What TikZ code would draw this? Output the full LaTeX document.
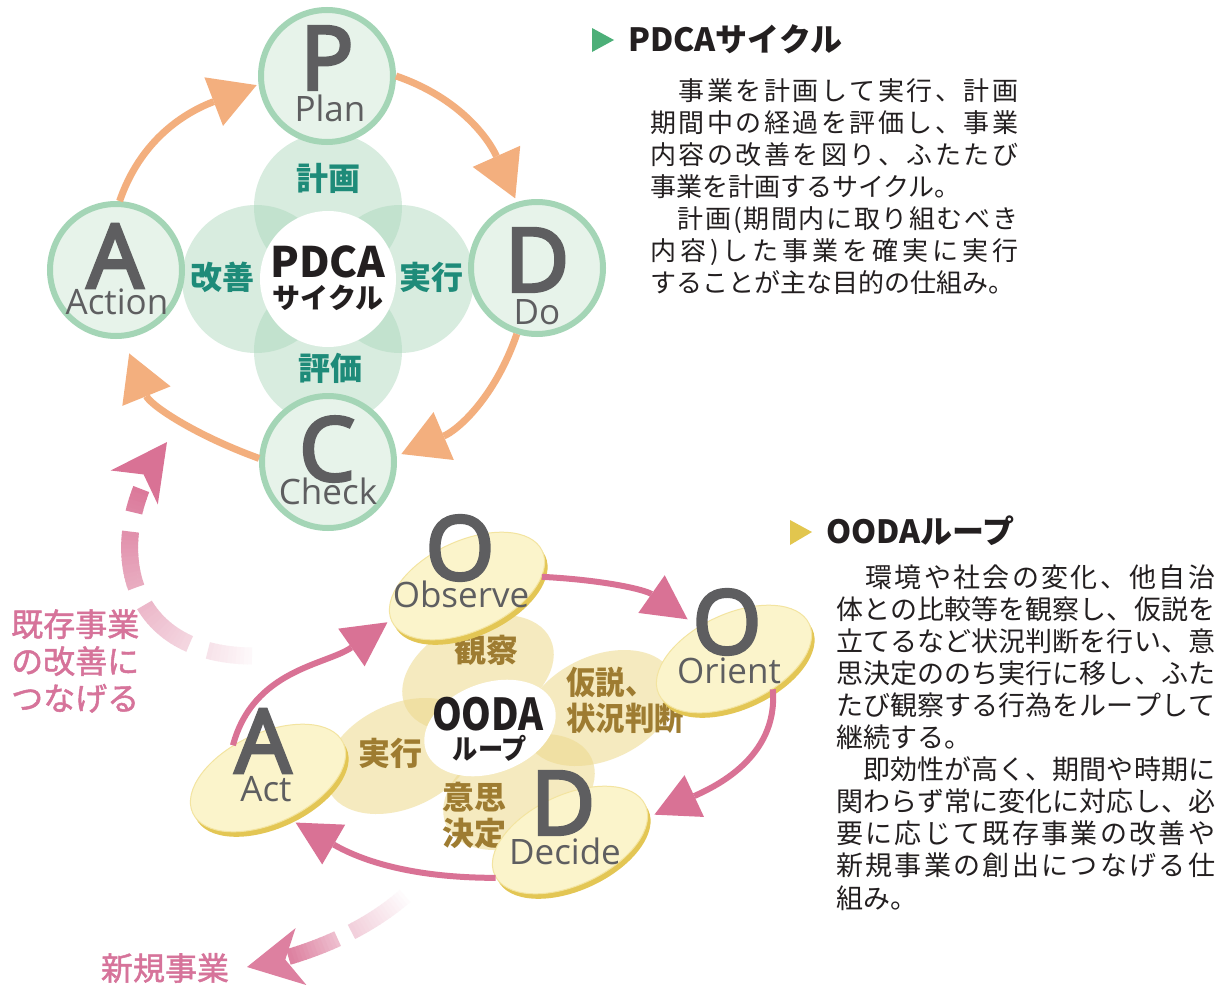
\documentclass[tikz,border=0pt]{standalone}
\usepackage{fontspec}
\usepackage{graphicx}
\setmainfont{Noto Sans CJK JP}
\newfontfamily\os{Open Sans}
\newfontfamily\osb[FakeBold=4]{Open Sans}
\newfontfamily\jpm[FakeBold=1.5]{Noto Sans CJK JP}
\usetikzlibrary{arrows.meta,shapes.geometric}
\definecolor{grnS}{HTML}{A4D5B6}
\definecolor{grnF}{HTML}{E7F3EA}
\definecolor{petalG}{HTML}{A9D6BA}
\definecolor{tealc}{HTML}{1E8B79}
\definecolor{orng}{HTML}{F3AF7E}
\definecolor{ltr}{HTML}{5E5E60}
\definecolor{pnk}{HTML}{D97295}
\definecolor{pnkT}{HTML}{D6739A}
\definecolor{cream}{HTML}{FBF4CB}
\definecolor{creamD}{HTML}{F3E4A0}
\definecolor{gold}{HTML}{E3C654}
\definecolor{petalY}{HTML}{EDD98C}
\definecolor{brn}{HTML}{9E7C31}
\definecolor{triG}{HTML}{4CAF78}
\definecolor{triY}{HTML}{E2C64E}
\definecolor{txtc}{HTML}{231F20}
\def\jl#1{\jlA#1\relax\relax}
\def\jlA#1#2{#1\ifx\relax#2\else\hfill\expandafter\jlA\expandafter#2\fi}
\begin{document}
\begin{tikzpicture}[x=1pt,y=1pt,
  pcirc/.style={circle, minimum size=132pt, inner sep=0pt, line width=6pt, draw=grnS, fill=grnF},
  gpetal/.style={circle, minimum size=148pt, inner sep=0pt, fill=petalG, fill opacity=0.45},
  bigL/.style={font=\osb\fontsize{88}{88}\selectfont, text=ltr, inner sep=0pt},
  smL/.style={font=\os\fontsize{35}{35}\selectfont, text=ltr, inner sep=0pt},
  tlab/.style={font=\bfseries\fontsize{32}{36}\selectfont, text=tealc, inner sep=0pt},
  oarr/.style={draw=orng, line width=7pt, -{Triangle[length=46pt,width=52pt,line width=0pt]}},
  ypetal/.style={ellipse, minimum width=160pt, minimum height=104pt, inner sep=0pt, fill=petalY, fill opacity=0.55, rotate=25},
  lensR/.style={ellipse, minimum width=166pt, minimum height=90pt, inner sep=0pt, fill=gold, rotate=25},
  lens/.style={ellipse, minimum width=166pt, minimum height=90pt, inner sep=0pt, fill=cream, draw=creamD, line width=1pt, rotate=25},
  blab/.style={font=\bfseries\fontsize{32}{36}\selectfont, text=brn, inner sep=0pt},
  parr/.style={draw=pnk, line width=6pt, -{Triangle[length=44pt,width=46pt,line width=0pt]}},
  plab/.style={font=\jpm\fontsize{32}{37}\selectfont, text=pnkT, inner sep=0pt},
  head/.style={font=\bfseries\fontsize{32}{36}\selectfont, text=txtc, inner sep=0pt, anchor=west}
]
\fill[white] (0,0) rectangle (1227,-985);
\useasboundingbox (0,0) rectangle (1227,-985);

% ---------------- PDCA ----------------
\node[gpetal] (gpT) at (328,-207) {};
\node[gpetal] (gpB) at (328,-351) {};
\node[gpetal] (gpL) at (256,-279) {};
\node[gpetal] (gpR) at (400,-279) {};
\node[circle, fill=white, minimum size=136pt, inner sep=0pt] (pcen) at (328,-279) {};
\node[font=\bfseries\fontsize{42}{44}\selectfont, text=txtc, inner sep=0pt] (pcT1) at (328,-262) {PDCA};
\node[font=\bfseries\fontsize{28}{30}\selectfont, text=txtc, inner sep=0pt] (pcT2) at (328,-298) {サイクル};
\node[tlab] (tKei) at (328,-178) {計画};
\node[tlab] (tHyo) at (330,-368) {評価};
\node[tlab] (tKai) at (222,-277) {改善};
\node[tlab] (tJik) at (431,-277) {実行};

\node[pcirc] (P) at (327,-76) {};
\node[pcirc] (D) at (537,-268) {};
\node[pcirc] (A) at (116,-270) {};
\node[pcirc] (C) at (328,-462) {};

\draw[oarr, shorten >=4pt] (P.0) to[out=-19,in=114] (D.107);
\draw[oarr, shorten >=5pt] (D.253) to[out=-109,in=23] (C.5);
\draw[oarr, shorten >=16pt] (C.177) to[out=160,in=-68] (A.-84);
\draw[oarr, shorten >=2pt] (A.87) to[out=71,in=201] (P.187);

\node[bigL] (Pl) at (327,-58) {P};
\node[smL] (Plb) at (330,-108) {Plan};
\node[bigL] (Dl) at (537,-260) {D};
\node[smL] (Dlb) at (537,-312) {Do};
\node[bigL] (Al) at (115,-256) {A};
\node[smL] (Alb) at (117,-302) {Action};
\node[bigL] (Cl) at (327,-449) {C};
\node[smL] (Clb) at (328,-491) {Check};

% ---------------- OODA ----------------
\node[ypetal] (ypK) at (478,-673) {};
\node[ypetal] (ypH) at (600,-708) {};
\node[ypetal] (ypJ) at (401,-756) {};
\node[ypetal] (ypI) at (519,-792) {};
\node[ellipse, fill=white, minimum width=136pt, minimum height=90pt, inner sep=0pt, rotate=20] (ocen) at (490,-728) {};
\node[font=\bfseries\fontsize{44}{46}\selectfont, text=txtc, inner sep=0pt] (ocT1) at (488,-714) {\scalebox{0.86}[1]{OODA}};
\node[font=\bfseries\fontsize{28}{30}\selectfont, text=txtc, inner sep=0pt] (ocT2) at (490,-748) {\scalebox{0.9}[1]{ループ}};
\node[blab] (tKan) at (486,-650) {観察};
\node[blab, anchor=west, align=left] (tKas) at (566,-700) {\scalebox{0.92}[1]{仮説、}\\\scalebox{0.92}[1]{状況判断}};
\node[blab] (tJk2) at (390,-753) {実行};
\node[blab, align=center] (tIsh) at (474,-815) {意思\\決定};

\node[lensR] (ObsR) at (470,-591) {};
\node[lensR] (OriR) at (737,-664) {};
\node[lensR] (ActR) at (271,-783) {};
\node[lensR] (DecR) at (573,-845) {};
\node[lens] (Obs) at (467,-586) {};
\node[lens] (Ori) at (734,-659) {};
\node[lens] (Act) at (268,-778) {};
\node[lens] (Dec) at (570,-840) {};

\draw[parr, shorten >=13pt] (Obs.-18) to[out=-3,in=145] (Ori.113);
\draw[parr, shorten >=7pt] (Ori.-63) to[out=-85,in=25] (Dec.-9);
\draw[parr, shorten >=8pt] (Dec.182) to[out=180,in=-30] (Act.-88);
\draw[parr, shorten >=4pt] (Act.112) to[out=75,in=215] (Obs.179);

\node[bigL] (ObsO) at (460,-548) {O};
\node[smL] (ObsL) at (461,-594) {Observe};
\node[bigL] (OriO) at (727,-622) {O};
\node[smL] (OriL) at (729,-671) {Orient};
\node[bigL] (ActA) at (263,-741) {A};
\node[smL] (ActL) at (266,-789) {Act};
\node[bigL] (DecD) at (563,-803) {D};
\node[smL] (DecL) at (565,-851) {Decide};

% ---------------- fading arrows ----------------
\coordinate (exS) at (252,-656);
\coordinate (exE) at (167,-442);
\foreach \s in {0,4,...,240}{%
  \pgfmathtruncatemacro\on{(\s<44 || (\s>=62 && \s<124) || (\s>=144 && \s<200) || \s>=220) ? 1 : 0}%
  \pgfmathtruncatemacro\c{5+0.375*\s}%
  \ifnum\on=1
    \draw[line width=17pt, draw=pnk!\c!white, dash pattern=on 0pt off \s pt on 4.6pt off 3000pt]
      (exS) .. controls (120,-655) and (100,-535) .. (exE);
  \fi
}
\draw[line width=17pt, draw=pnk, dash pattern=on 0pt off 3000pt,
  -{Stealth[length=56pt,width=58pt,inset=16pt,line width=0pt]}]
  (exS) .. controls (120,-655) and (100,-535) .. (exE);

\coordinate (nwS) at (405,-896);
\coordinate (nwE) at (247,-967);
\foreach \s in {0,4,...,128}{%
  \pgfmathtruncatemacro\on{(\s<64 || \s>=78) ? 1 : 0}%
  \pgfmathtruncatemacro\c{(\s<70) ? (3+0.5*\s) : (45+0.9*(\s-78))}%
  \ifnum\on=1
    \draw[line width=16pt, draw=pnk!\c!white, dash pattern=on 0pt off \s pt on 4.6pt off 3000pt]
      (nwS) .. controls (375,-922) and (325,-952) .. (nwE);
  \fi
}
\draw[line width=16pt, draw=pnk!90!white, dash pattern=on 0pt off 3000pt,
  -{Stealth[length=55pt,width=58pt,inset=16pt,line width=0pt]}]
  (nwS) .. controls (375,-922) and (325,-952) .. (nwE);

\node[plab, anchor=west, align=left] (kizon) at (11,-661) {既存事業\\の改善に\\つなげる};
\node[plab] (shinki) at (165,-968) {新規事業};

% ---------------- right texts ----------------
\fill[triG] (592,-28) -- (592,-52) -- (614,-40) -- cycle;
\node[head] (pdcaHead) at (628,-39) {PDCAサイクル};
\node[anchor=base west, inner sep=0pt, text=txtc, font=\fontsize{26}{32}\selectfont] (pdcaTxt) at (650,-100) {\vtop{%
\hbox to 368pt{\jl{　事業を計画して実行、計画}}%
\hbox to 368pt{\jl{期間中の経過を評価し、事業}}%
\hbox to 368pt{\jl{内容の改善を図り、ふたたび}}%
\hbox{事業を計画するサイクル。}%
\hbox to 368pt{\jl{　計画(期間内に取り組むべき}}%
\hbox to 368pt{\jl{内容)した事業を確実に実行}}%
\hbox{することが主な目的の仕組み。}}};

\fill[triY] (790,-520) -- (790,-545) -- (812,-532) -- cycle;
\node[head] (oodaHead) at (826,-531) {OODAループ};
\node[anchor=base west, inner sep=0pt, text=txtc, font=\fontsize{27}{32.1}\selectfont] (oodaTxt) at (836,-587) {\vtop{%
\hbox to 379pt{\jl{　環境や社会の変化、他自治}}%
\hbox to 379pt{\jl{体との比較等を観察し、仮説を}}%
\hbox to 379pt{\jl{立てるなど状況判断を行い、意}}%
\hbox to 379pt{\jl{思決定ののち実行に移し、ふた}}%
\hbox to 379pt{\jl{たび観察する行為をループして}}%
\hbox{継続する。}%
\hbox to 379pt{\jl{　即効性が高く、期間や時期に}}%
\hbox to 379pt{\jl{関わらず常に変化に対応し、必}}%
\hbox to 379pt{\jl{要に応じて既存事業の改善や}}%
\hbox to 379pt{\jl{新規事業の創出につなげる仕}}%
\hbox{組み。}}};
\end{tikzpicture}
\end{document}
